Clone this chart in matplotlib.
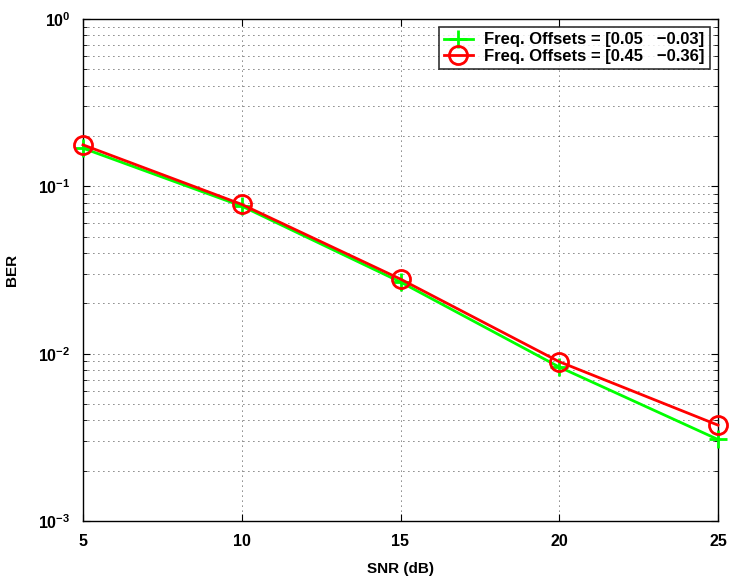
import matplotlib
matplotlib.use("Agg")
import matplotlib.pyplot as plt
from matplotlib.ticker import LogLocator, NullFormatter

snr_db = [5, 10, 15, 20, 25]
ber_small_offset = [0.169, 0.0762, 0.0268, 0.00832, 0.00307]
ber_large_offset = [0.177, 0.078, 0.0279, 0.00895, 0.00374]
labels = ["Freq. Offsets = [0.05   \u22120.03]",
          "Freq. Offsets = [0.45   \u22120.36]"]

plt.rcParams["font.family"] = ["Liberation Sans", "DejaVu Sans"]
plt.rcParams["font.weight"] = "bold"
plt.rcParams["mathtext.default"] = "bf"

fig = plt.figure(figsize=(7.30, 5.79), dpi=100)
ax = fig.add_axes([83 / 730, 1 - 521 / 579, (718 - 83) / 730, (521 - 19) / 579])

ax.semilogy(snr_db, ber_small_offset, color=(0, 1, 0), lw=2, marker="+",
            ms=13, mew=2, label=labels[0], clip_on=False, zorder=3)
ax.semilogy(snr_db, ber_large_offset, color=(1, 0, 0), lw=2, marker="o",
            ms=13, mew=2, mfc="none", label=labels[1], clip_on=False, zorder=4)

ax.set_xlim(5, 25)
ax.set_ylim(1e-3, 1)
ax.set_xticks(snr_db)
ax.yaxis.set_major_locator(LogLocator(base=10, numticks=10))
ax.yaxis.set_minor_locator(LogLocator(base=10, subs=range(2, 10), numticks=10))
ax.yaxis.set_minor_formatter(NullFormatter())

ax.tick_params(which="both", direction="in", top=True, right=True, labelsize=11.5)
ax.tick_params(which="major", length=5)
ax.tick_params(which="minor", length=3)
ax.tick_params(axis="x", which="major", pad=9)
ax.tick_params(axis="y", which="major", pad=9)
for lbl in ax.get_xticklabels() + ax.get_yticklabels():
    lbl.set_fontweight("bold")

ax.grid(True, which="major", axis="both", linestyle=(0, (1, 5)), color="black", lw=0.6)
ax.grid(True, which="minor", axis="y", linestyle=(0, (1, 5)), color="black", lw=0.6)

for s in ax.spines.values():
    s.set_linewidth(1.0)

ax.set_xlabel("SNR (dB)", fontsize=11, fontweight="bold", labelpad=10)
ax.set_ylabel("BER", fontsize=11, fontweight="bold", labelpad=14)

leg = ax.legend(loc="upper right", fontsize=12, frameon=True, fancybox=False,
                edgecolor="black", borderaxespad=0.5, handlelength=1.7,
                borderpad=0.3, labelspacing=0.1, handletextpad=0.7)
leg.get_frame().set_linewidth(1.2)
for t in leg.get_texts():
    t.set_fontweight("bold")

fig.savefig("out.png", dpi=100)
